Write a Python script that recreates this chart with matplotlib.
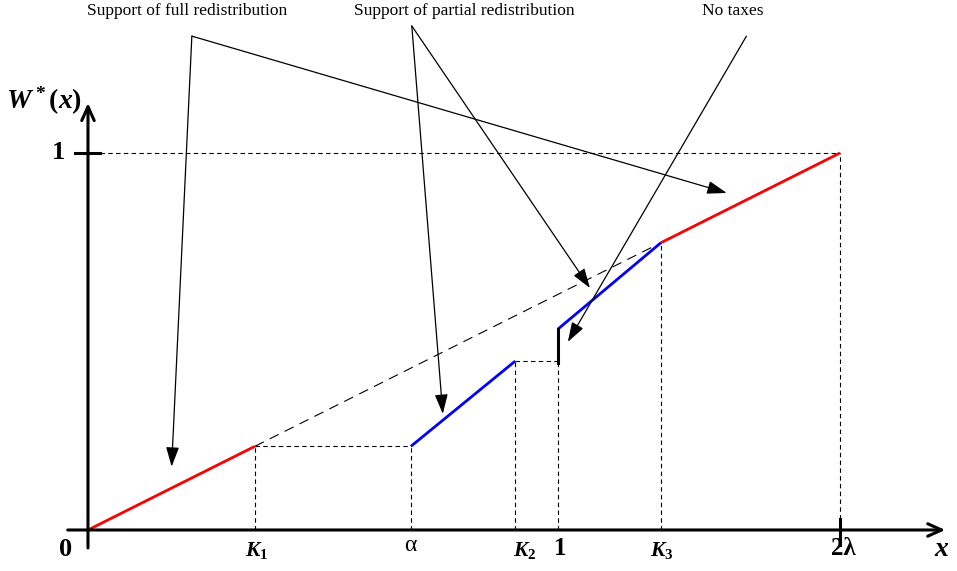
import matplotlib
matplotlib.use("Agg")
import matplotlib.pyplot as plt

plt.rcParams['font.family'] = ['Liberation Serif', 'DejaVu Serif']
plt.rcParams['mathtext.fontset'] = 'custom'
plt.rcParams['mathtext.it'] = 'Liberation Serif:italic:bold'
plt.rcParams['mathtext.rm'] = 'Liberation Serif:bold'
plt.rcParams['mathtext.bf'] = 'Liberation Serif:bold'

# key points on the x axis (x = 1 is the unit)
K1, alpha, K2, one, K3, two_lam = 0.355, 0.687, 0.909, 1.0, 1.219, 1.6
# W*(x) values
w_K1 = K1 / two_lam
w_K2 = 0.448
w_one_hi = 0.533
w_K3 = K3 / two_lam

red_segments = [([0, K1], [0, w_K1]), ([K3, two_lam], [w_K3, 1.0])]
blue_segments = [([alpha, K2], [w_K1, w_K2]), ([one, K3], [w_one_hi, w_K3])]

# annotations: label, label position, arrow start, arrow tips
notes = [
    ("Support of full redistribution", (0.211, 1.376), (0.221, 1.310), [(0.178, 0.168), (1.359, 0.894)]),
    ("Support of partial redistribution", (0.800, 1.376), (0.689, 1.337), [(0.755, 0.308), (1.068, 0.642)]),
    ("No taxes", (1.372, 1.376), (1.401, 1.310), [(1.021, 0.499)]),
]

fig = plt.figure(figsize=(9.57, 5.71), dpi=100)
ax = fig.add_axes([0, 0, 1, 1])
ax.set_xlim(-0.1872, 1.849)
ax.set_ylim(-0.1088, 1.4058)
ax.axis('off')

# axes with arrows
ax.annotate('', xy=(1.83, 0), xytext=(-0.049, 0),
            arrowprops=dict(arrowstyle='->,head_length=1.0,head_width=0.45', lw=2.2, color='black'))
ax.annotate('', xy=(0, 1.14), xytext=(0, -0.055),
            arrowprops=dict(arrowstyle='->,head_length=1.0,head_width=0.45', lw=2.2, color='black'))
ax.plot([-0.028, 0.025], [1, 1], color='black', lw=2.2)
ax.plot([two_lam, two_lam], [-0.04, 0.03], color='black', lw=2.2)

# dashed guides
dash = dict(color='black', lw=0.8, ls=(0, (4, 3)))
ax.plot([0.025, two_lam], [1, 1], **dash)
ax.plot([two_lam, two_lam], [0.03, 1], **dash)
for xv, yv in [(K1, w_K1), (alpha, w_K1), (K2, w_K2), (one, w_one_hi), (K3, w_K3)]:
    ax.plot([xv, xv], [0, yv], **dash)
ax.plot([K1, alpha], [w_K1, w_K1], **dash)
ax.plot([K2, one], [w_K2, w_K2], **dash)
ax.plot([K1, K3], [w_K1, w_K3], color='black', lw=0.8, ls=(0, (9, 6)))

# W*(x)
for xs, ys in red_segments:
    ax.plot(xs, ys, color='#ff0000', lw=2.0, solid_capstyle='butt')
for xs, ys in blue_segments:
    ax.plot(xs, ys, color='#0000ff', lw=2.0, solid_capstyle='butt')
ax.plot([one, one], [w_K2 - 0.005, w_one_hi], color='black', lw=2.2)

# labels
bold = dict(fontweight='bold', ha='center', va='center')
ax.text(-0.047, -0.052, '0', fontsize=19, **bold)
ax.text(-0.063, 1.0, '1', fontsize=19, **bold)
ax.text(-0.094, 1.138, r'$W^*(x)$', fontsize=20, ha='center', va='center')
ax.text(1.816, -0.052, r'$x$', fontsize=20, ha='center', va='center')
ax.text(K1 + 0.004, -0.054, r'$K_1$', fontsize=15.5, ha='center', va='center')
ax.text(K2 + 0.02, -0.054, r'$K_2$', fontsize=15.5, ha='center', va='center')
ax.text(K3 + 0.002, -0.054, r'$K_3$', fontsize=15.5, ha='center', va='center')
ax.text(alpha - 0.002, -0.042, '\u03b1', fontsize=17, ha='center', va='center')
ax.text(one + 0.004, -0.049, '1', fontsize=18, **bold)
ax.text(two_lam + 0.008, -0.049, '2\u03bb', fontsize=18, **bold)

for label, lpos, start, tips in notes:
    ax.text(lpos[0], lpos[1], label, fontsize=12.5, ha='center', va='center')
    for tip in tips:
        ax.annotate('', xy=tip, xytext=start,
                    arrowprops=dict(arrowstyle='-|>,head_length=1.2,head_width=0.4',
                                    lw=0.9, color='black', shrinkA=0, shrinkB=0))

fig.savefig('out.png', dpi=100)
